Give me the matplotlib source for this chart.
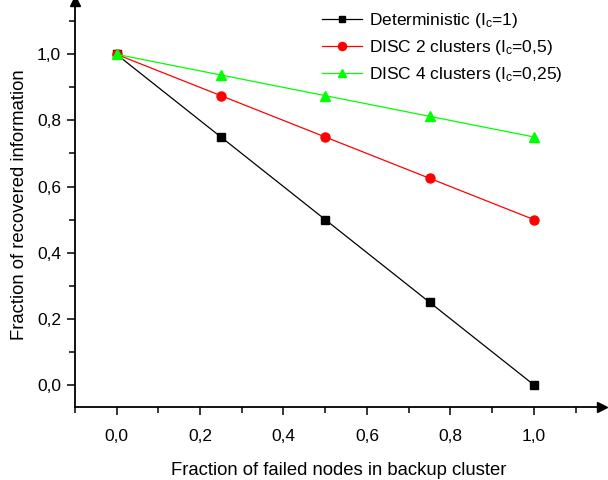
import matplotlib
matplotlib.use("Agg")
import matplotlib.pyplot as plt
from matplotlib.ticker import MultipleLocator, FuncFormatter

plt.rcParams['font.family'] = ['Liberation Sans', 'DejaVu Sans']
plt.rcParams['mathtext.fontset'] = 'custom'
plt.rcParams['mathtext.rm'] = 'Liberation Sans'

x = [0.0, 0.25, 0.5, 0.75, 1.0]
deterministic = [1.0, 0.75, 0.5, 0.25, 0.0]
disc2 = [1.0, 0.875, 0.75, 0.625, 0.5]
disc4 = [1.0, 0.9375, 0.875, 0.8125, 0.75]
labels = ["Deterministic (I$\\mathregular{_c}$=1)",
          "DISC 2 clusters (I$\\mathregular{_c}$=0,5)",
          "DISC 4 clusters (I$\\mathregular{_c}$=0,25)"]

fig = plt.figure(figsize=(6.08, 4.8), dpi=100)
ax = fig.add_axes([0.123, 0.152, 0.867, 0.845])

ax.plot(x, deterministic, color='black', lw=0.9, marker='s', ms=5.5, label=labels[0])
ax.plot(x, disc2, color='#FF0000', lw=0.9, marker='o', ms=6.5, label=labels[1])
ax.plot(x, disc4, color='#00FF00', lw=0.9, marker='^', ms=7, label=labels[2])

ax.set_xlim(-0.1, 1.163)
ax.set_ylim(-0.067, 1.16)
for s in ['top', 'right']:
    ax.spines[s].set_visible(False)
for s in ['left', 'bottom']:
    ax.spines[s].set_linewidth(1.3)

ax.plot(1, 0, marker='>', color='black', ms=7, transform=ax.transAxes, clip_on=False)
ax.plot(0, 1, marker='^', color='black', ms=7, transform=ax.transAxes, clip_on=False)

ax.xaxis.set_major_locator(MultipleLocator(0.2))
ax.xaxis.set_minor_locator(MultipleLocator(0.1))
ax.yaxis.set_major_locator(MultipleLocator(0.2))
ax.yaxis.set_minor_locator(MultipleLocator(0.1))
fmt = FuncFormatter(lambda v, p: f"{v:.1f}".replace('.', ','))
ax.xaxis.set_major_formatter(fmt)
ax.yaxis.set_major_formatter(fmt)
ax.tick_params(which='major', direction='out', length=6, width=1.1, labelsize=12.5)
ax.tick_params(which='minor', direction='out', length=4, width=1.1)
ax.tick_params(axis='x', pad=10)
ax.tick_params(axis='y', pad=4)

ax.set_xlabel("Fraction of failed nodes in backup cluster", fontsize=13.3, labelpad=13)
ax.set_ylabel("Fraction of recovered information", fontsize=13.3, labelpad=6)

ax.legend(loc='upper right', bbox_to_anchor=(0.955, 1.015), frameon=False, fontsize=12.5,
          handlelength=2.3, handletextpad=0.4, labelspacing=0.45, markerscale=0.9)

fig.savefig("out.png", dpi=100)
